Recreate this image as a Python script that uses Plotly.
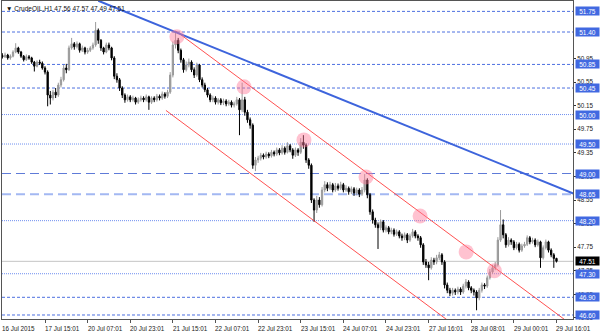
import plotly.graph_objects as go

# ---------------- data ----------------
bars = list(range(209))

opens = [
51.00,50.98,51.01,50.96,50.99,51.06,51.13,51.06,50.99,50.93,
50.98,50.96,50.89,50.82,50.89,50.87,50.79,50.72,50.33,50.28,
50.38,50.33,50.50,50.59,50.79,50.76,51.13,51.20,51.15,51.20,
51.09,51.13,51.06,51.09,51.13,51.18,51.43,51.26,51.13,51.06,
51.18,51.13,50.96,50.65,50.59,50.45,50.33,50.25,50.30,50.25,
50.28,50.21,50.25,50.28,50.25,50.30,50.21,50.28,50.25,50.31,
50.28,50.35,50.31,50.38,50.67,51.18,51.26,51.09,50.93,50.76,
50.84,50.89,50.76,50.67,50.84,50.59,50.50,50.42,50.33,50.25,
50.28,50.21,50.25,50.20,50.23,50.18,50.21,50.16,50.18,50.25,
50.08,50.25,50.04,49.91,49.82,49.14,49.23,49.26,49.31,49.28,
49.33,49.30,49.36,49.33,49.40,49.35,49.43,49.36,49.47,49.40,
49.31,49.40,49.36,49.53,49.48,49.23,49.14,48.55,48.38,48.55,
48.47,48.72,48.81,48.75,48.81,48.72,48.79,48.75,48.81,48.72,
48.75,48.69,48.74,48.67,48.72,48.65,48.72,48.89,48.64,48.35,
48.21,48.13,48.08,48.18,48.04,48.08,48.01,48.04,47.97,48.01,
47.94,47.91,47.96,47.87,47.94,48.01,47.94,47.91,47.79,47.50,
47.45,47.40,47.53,47.50,47.57,47.62,47.50,47.11,47.02,46.97,
47.02,46.99,47.04,46.99,47.09,47.16,47.06,47.02,46.99,46.89,
47.02,47.11,47.09,47.23,47.33,47.40,47.45,47.87,48.13,47.96,
47.79,47.87,47.84,47.74,47.80,47.70,47.77,47.80,47.91,47.84,
47.87,47.79,47.84,47.57,47.74,47.84,47.70,47.62,47.56]

highs = [
51.04,51.05,51.03,51.02,51.09,51.21,51.15,51.08,51.01,51.02,
51.01,50.98,50.91,50.92,50.93,50.90,50.82,50.75,50.40,50.42,
50.45,50.54,50.64,50.84,50.86,51.17,51.30,51.23,51.24,51.22,
51.17,51.15,51.13,51.16,51.22,51.57,51.46,51.28,51.15,51.22,
51.22,51.15,50.99,50.70,50.62,50.48,50.36,50.34,50.33,50.32,
50.30,50.29,50.32,50.31,50.34,50.32,50.31,50.31,50.35,50.34,
50.39,50.38,50.42,50.72,51.24,51.40,51.30,51.12,50.96,50.90,
50.95,50.92,50.80,50.88,50.86,50.63,50.54,50.45,50.36,50.32,
50.31,50.28,50.28,50.27,50.26,50.25,50.24,50.22,50.30,50.28,
50.54,50.30,50.08,49.95,49.85,49.28,49.30,49.35,49.34,49.37,
49.36,49.40,49.39,49.44,49.43,49.48,49.46,49.53,49.50,49.43,
49.44,49.43,49.60,49.65,49.51,49.26,49.17,48.58,48.62,48.60,
48.77,48.87,48.85,48.86,48.84,48.84,48.83,48.86,48.84,48.80,
48.78,48.78,48.77,48.76,48.75,48.77,48.99,48.92,48.67,48.39,
48.25,48.17,48.22,48.21,48.12,48.11,48.08,48.07,48.05,48.04,
47.98,48.00,47.99,47.98,48.06,48.04,47.97,47.94,47.82,47.55,
47.50,47.58,47.57,47.62,47.67,47.65,47.53,47.15,47.06,47.06,
47.05,47.08,47.07,47.13,47.21,47.19,47.09,47.05,47.02,47.06,
47.15,47.14,47.27,47.38,47.45,47.50,47.92,48.38,48.22,47.99,
47.92,47.90,47.87,47.84,47.83,47.81,47.84,47.95,47.94,47.91,
47.90,47.88,47.86,47.78,47.88,47.86,47.73,47.65,47.57]

lows = [
50.95,50.96,50.93,50.93,50.97,51.04,51.03,50.96,50.90,50.91,
50.93,50.86,50.73,50.80,50.84,50.76,50.68,50.14,50.17,50.24,
50.28,50.30,50.46,50.56,50.70,50.74,51.10,51.10,51.12,51.05,
51.06,51.02,51.03,51.06,51.10,51.15,51.20,51.08,51.02,51.04,
51.09,50.92,50.60,50.54,50.40,50.28,50.20,50.22,50.21,50.22,
50.17,50.18,50.22,50.21,50.22,50.08,50.18,50.21,50.22,50.24,
50.25,50.27,50.28,50.35,50.63,51.12,51.04,50.88,50.71,50.73,
50.80,50.72,50.62,50.64,50.55,50.46,50.38,50.29,50.21,50.21,
50.17,50.17,50.16,50.16,50.14,50.15,50.12,50.12,50.15,49.65,
50.04,49.98,49.86,49.76,49.08,49.04,49.18,49.22,49.24,49.25,
49.26,49.27,49.29,49.30,49.31,49.32,49.32,49.34,49.36,49.25,
49.28,49.30,49.33,49.42,49.18,49.08,48.50,48.18,48.33,48.42,
48.44,48.68,48.70,48.72,48.68,48.69,48.71,48.72,48.68,48.69,
48.64,48.65,48.62,48.63,48.60,48.62,48.68,48.58,48.30,48.15,
48.08,47.72,48.04,48.00,48.00,47.97,47.97,47.93,47.94,47.90,
47.86,47.87,47.82,47.84,47.91,47.90,47.86,47.74,47.45,47.40,
47.19,47.37,47.45,47.46,47.53,47.45,47.05,46.97,46.92,46.93,
46.94,46.95,46.94,46.96,47.05,47.02,46.97,46.93,46.68,46.85,
46.98,47.04,47.06,47.20,47.30,47.36,47.42,47.84,47.90,47.74,
47.76,47.79,47.70,47.71,47.66,47.67,47.74,47.77,47.80,47.81,
47.75,47.76,47.40,47.54,47.71,47.66,47.58,47.40,47.49]

closes = [
50.98,51.01,50.96,50.99,51.06,51.13,51.06,50.99,50.93,50.98,
50.96,50.89,50.82,50.89,50.87,50.79,50.72,50.33,50.28,50.38,
50.33,50.50,50.59,50.79,50.76,51.13,51.20,51.15,51.20,51.09,
51.13,51.06,51.09,51.13,51.18,51.43,51.26,51.13,51.06,51.18,
51.13,50.96,50.65,50.59,50.45,50.33,50.25,50.30,50.25,50.28,
50.21,50.25,50.28,50.25,50.30,50.21,50.28,50.25,50.31,50.28,
50.35,50.31,50.38,50.67,51.18,51.26,51.09,50.93,50.76,50.84,
50.89,50.76,50.67,50.84,50.59,50.50,50.42,50.33,50.25,50.28,
50.21,50.25,50.20,50.23,50.18,50.21,50.16,50.18,50.25,50.08,
50.25,50.04,49.91,49.82,49.14,49.23,49.26,49.31,49.28,49.33,
49.30,49.36,49.33,49.40,49.35,49.43,49.36,49.47,49.40,49.31,
49.40,49.36,49.53,49.48,49.23,49.14,48.55,48.38,48.55,48.47,
48.72,48.81,48.75,48.81,48.72,48.79,48.75,48.81,48.72,48.75,
48.69,48.74,48.67,48.72,48.65,48.72,48.89,48.64,48.35,48.21,
48.13,48.08,48.18,48.04,48.08,48.01,48.04,47.97,48.01,47.94,
47.91,47.96,47.87,47.94,48.01,47.94,47.91,47.79,47.50,47.45,
47.40,47.53,47.50,47.57,47.62,47.50,47.11,47.02,46.97,47.02,
46.99,47.04,46.99,47.09,47.16,47.06,47.02,46.99,46.89,47.02,
47.11,47.09,47.23,47.33,47.40,47.45,47.87,48.13,47.96,47.79,
47.87,47.84,47.74,47.80,47.70,47.77,47.80,47.91,47.84,47.87,
47.79,47.84,47.57,47.74,47.84,47.70,47.62,47.56,47.51]

time_tick_bars = [0, 16, 32, 48, 64, 80, 96, 112, 128, 144, 160, 176, 192, 208]
time_tick_labels = ["16 Jul 2015", "17 Jul 15:01", "20 Jul 07:01", "20 Jul 23:01",
                    "21 Jul 15:01", "22 Jul 07:01", "22 Jul 23:01", "23 Jul 15:01",
                    "24 Jul 07:01", "24 Jul 23:01", "27 Jul 16:01", "28 Jul 08:01",
                    "29 Jul 00:01", "29 Jul 16:01"]

price_ticks = [50.95, 50.55, 50.15, 49.75, 49.35, 48.95, 48.55, 48.15,
               47.75, 47.35, 46.95, 46.55]

dotted_levels = [51.75, 51.40, 50.85, 50.45, 46.90, 46.60]
fine_dot_levels = [50.00, 49.50, 48.20, 47.30]
dash_dark_level = 49.00
dash_light_level = 48.65
box_levels = [51.75, 51.40, 50.85, 50.45, 50.00, 49.50, 49.00, 48.65,
              48.20, 47.30, 46.90, 46.60]
last_price = 47.51

title_text = "\u25bc CrudeOIL,H1 47.56 47.57 47.49 47.51"

upper_channel_bars = [65.0, 214.4]
upper_channel_prices = [51.42, 46.41]
lower_channel_bars = [61.4, 214.4]
lower_channel_prices = [50.07, 44.92]
blue_trend_bars = [36.0, 214.4]
blue_trend_prices = [51.93, 48.66]

touch_bars = [65.5, 90.7, 113.2, 136.5, 156.8, 174.1, 184.7]
touch_prices = [51.32, 50.47, 49.57, 48.94, 48.28, 47.67, 47.35]

# ---------------- figure ----------------
FONT = "Liberation Sans"
fig = go.Figure()

fig.add_trace(go.Candlestick(
    x=bars, open=opens, high=highs, low=lows, close=closes,
    increasing=dict(line=dict(color="#9a9a9a", width=1), fillcolor="#9a9a9a"),
    decreasing=dict(line=dict(color="#000000", width=1), fillcolor="#000000"),
    whiskerwidth=0, showlegend=False, hoverinfo="skip"))

fig.add_trace(go.Scatter(x=upper_channel_bars, y=upper_channel_prices, mode="lines",
                         line=dict(color="rgba(255,50,50,0.85)", width=1),
                         showlegend=False, hoverinfo="skip"))
fig.add_trace(go.Scatter(x=lower_channel_bars, y=lower_channel_prices, mode="lines",
                         line=dict(color="rgba(255,50,50,0.85)", width=1),
                         showlegend=False, hoverinfo="skip"))
fig.add_trace(go.Scatter(x=blue_trend_bars, y=blue_trend_prices, mode="lines",
                         line=dict(color="#3d64dc", width=2),
                         showlegend=False, hoverinfo="skip"))
fig.add_trace(go.Scatter(x=touch_bars, y=touch_prices, mode="markers",
                         marker=dict(size=15, color="rgba(255,120,150,0.45)",
                                     line=dict(width=0)),
                         showlegend=False, hoverinfo="skip"))

shapes = []
for lv in dotted_levels:
    shapes.append(dict(type="line", xref="paper", x0=0, x1=1, y0=lv, y1=lv, layer="below",
                       line=dict(color="#4d70e0", width=1, dash="3px,2px")))
for lv in fine_dot_levels:
    shapes.append(dict(type="line", xref="paper", x0=0, x1=1, y0=lv, y1=lv, layer="below",
                       line=dict(color="#6f8ff0", width=1, dash="1px,1px")))
shapes.append(dict(type="line", xref="paper", x0=0, x1=1, y0=dash_dark_level, y1=dash_dark_level,
                   layer="below", line=dict(color="#5f7bd8", width=1, dash="9px,5px")))
shapes.append(dict(type="line", xref="paper", x0=0, x1=1, y0=dash_light_level, y1=dash_light_level,
                   layer="below", line=dict(color="#a3b8f2", width=2, dash="9px,5px")))
shapes.append(dict(type="line", xref="paper", x0=0, x1=1, y0=last_price, y1=last_price,
                   layer="below", line=dict(color="#c4c4c4", width=1)))

annotations = []
for lv in box_levels:
    annotations.append(dict(xref="paper", x=1, xanchor="left", xshift=2, y=lv, yref="y",
                            text=f"{lv:.2f}", showarrow=False, bgcolor="#4169e1",
                            font=dict(family=FONT, size=6.5, color="white"),
                            width=23, height=8, borderpad=0, align="center"))
annotations.append(dict(xref="paper", x=1, xanchor="left", xshift=2, y=last_price, yref="y",
                        text=f"{last_price:.2f}", showarrow=False, bgcolor="#000000",
                        font=dict(family=FONT, size=6.5, color="white"),
                        width=23, height=8, borderpad=0, align="center"))
for b, lab in zip(time_tick_bars, time_tick_labels):
    annotations.append(dict(x=b, xref="x", xanchor="left", xshift=-2, y=0, yref="paper",
                            yanchor="middle", yshift=-9, text=lab, showarrow=False,
                            font=dict(family=FONT, size=6.3, color="#222")))
annotations.append(dict(xref="paper", x=0, xanchor="left", xshift=2, yref="paper", y=1,
                        yanchor="middle", yshift=-7, text=title_text, showarrow=False,
                        font=dict(family=FONT, size=6.5, color="#111")))

fig.update_layout(
    width=600, height=333,
    margin=dict(l=2, r=27, t=1, b=14),
    paper_bgcolor="white", plot_bgcolor="white",
    shapes=shapes, annotations=annotations,
    showlegend=False,
    xaxis=dict(range=[-0.14, 214.2], rangeslider=dict(visible=False), showgrid=False,
               zeroline=False, showline=True, mirror=True, linecolor="#555", linewidth=1,
               tickmode="array", tickvals=time_tick_bars[1:], ticks="outside", ticklen=3,
               tickcolor="#555", showticklabels=False),
    yaxis=dict(range=[46.532, 51.926], side="right", showgrid=False, zeroline=False,
               showline=True, mirror=True, linecolor="#555", linewidth=1,
               tickmode="array", tickvals=price_ticks, ticktext=[f"{v:.2f}" for v in price_ticks],
               ticks="outside", ticklen=2, tickcolor="#333",
               tickfont=dict(family=FONT, size=6.3, color="#222")),
)

fig.write_html("out.html")
